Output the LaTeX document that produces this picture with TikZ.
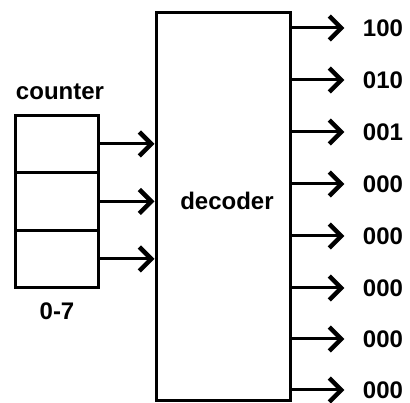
\documentclass[tikz,border=0pt]{standalone}
\usepackage{fontspec}
\setmainfont{Liberation Sans}
\usepackage{tikz}
\usetikzlibrary{arrows.meta}

\begin{document}
\begin{tikzpicture}[x=1pt, y=-1pt, line width=3pt,
    >={Straight Barb[length=12pt, width=24pt, line width=4.5pt]},
    lbl/.style={font=\fontsize{24}{28}\selectfont\bfseries, inner sep=0pt},
    cell/.style={draw, minimum width=83pt, minimum height=57.7pt, inner sep=0pt}]

    \useasboundingbox (0,0) rectangle (410,403);

    % Decoder block
    \node[draw, minimum width=134pt, minimum height=388pt, inner sep=0pt] (dec) at (223,207) {};
    \node[lbl] (declbl) at (227,201) {decoder};

    % Counter (three cells)
    \node[cell] (c1) at (57,144) {};
    \node[cell] (c2) at (57,201.5) {};
    \node[cell] (c3) at (57,259) {};
    \node[lbl] (ctrlbl) at (60,92) {counter};
    \node[lbl] (rng) at (57,311) {0-7};

    % Counter bits into decoder
    \foreach \c in {c1,c2,c3}
        \draw[->] (\c.east) -- (\c.east -| dec.west);

    % Decoder outputs
    \foreach \i/\v/\y in {1/100/28, 2/010/80, 3/001/132, 4/000/184,
                          5/000/236, 6/000/288, 7/000/339, 8/000/390} {
        \node[lbl] (o\i) at (383,\y) {\v};
        \draw[->] (dec.east |- o\i) -- ([xshift=-17pt]o\i.west);
    }

\end{tikzpicture}
\end{document}
